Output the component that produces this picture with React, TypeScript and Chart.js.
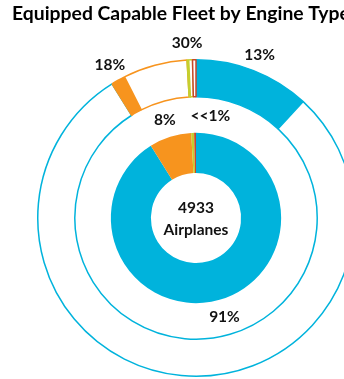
import React, { useEffect, useRef } from 'react';
import { Chart, registerables } from 'chart.js';

Chart.register(...registerables);

const engineTypes = ['Engine A', 'Engine B', 'Engine C', 'Engine D'];
const fleetShare = [91.1, 8.0, 0.55, 0.35];
const equippedPct = [13, 18, 30, 0];
const typeColors = ['#00B3DC', '#F7941E', '#C5CF2F', '#C8472B'];
const outerLabels = ['13%', '18%', '30%', ''];
const innerLabels = ['91%', '8%', '<<1%', ''];
const totalAirplanes = '4933';
const centerCaption = 'Airplanes';
const titleText = 'Equipped Capable Fleet by Engine Type';

const FONT = 'Lato, "Open Sans", sans-serif';

const outerData: number[] = [];
const outerBg: string[] = [];
const outerBorder: string[] = [];
const outerNames: string[] = [];
engineTypes.forEach((t, i) => {
  outerData.push((fleetShare[i] * equippedPct[i]) / 100);
  outerData.push((fleetShare[i] * (100 - equippedPct[i])) / 100);
  outerBg.push(typeColors[i], '#FFFFFF');
  outerBorder.push(typeColors[i], typeColors[i]);
  outerNames.push(t + ' equipped', t + ' not equipped');
});

const labelPlugin = {
  id: 'customLabels',
  afterDraw(chart: any) {
    const ctx = chart.ctx;
    ctx.save();
    // title
    let size = 17;
    ctx.font = `bold ${size}px ${FONT}`;
    const w = ctx.measureText(titleText).width;
    size = size * (338 / w);
    ctx.font = `bold ${size}px ${FONT}`;
    ctx.fillStyle = '#000';
    ctx.textAlign = 'left';
    ctx.textBaseline = 'alphabetic';
    ctx.fillText(titleText, 12, 20);

    ctx.font = `bold 15.5px ${FONT}`;
    ctx.textAlign = 'center';
    ctx.textBaseline = 'middle';
    ctx.fillStyle = '#111';

    const outerMeta = chart.getDatasetMeta(0);
    outerLabels.forEach((lab, i) => {
      if (!lab) return;
      const arc = outerMeta.data[i * 2];
      const a = (arc.startAngle + arc.endAngle) / 2;
      const r = arc.outerRadius + 17;
      ctx.fillText(lab, arc.x + r * Math.cos(a), arc.y + r * Math.sin(a));
    });

    const innerMeta = chart.getDatasetMeta(2);
    innerLabels.forEach((lab, i) => {
      if (!lab) return;
      const arc = innerMeta.data[i];
      let a = (arc.startAngle + arc.endAngle) / 2;
      if (i === innerLabels.length - 2) {
        const last = innerMeta.data[innerMeta.data.length - 1];
        a = last.endAngle + 0.14;
      }
      const r = arc.outerRadius + 18;
      ctx.fillText(lab, arc.x + r * Math.cos(a), arc.y + r * Math.sin(a));
    });

    const arc0 = innerMeta.data[0];
    ctx.fillStyle = '#111';
    ctx.fillText(totalAirplanes, arc0.x, arc0.y - 10);
    ctx.fillText(centerCaption, arc0.x, arc0.y + 12);
    ctx.restore();
  },
};

export default function App() {
  const ref = useRef<HTMLCanvasElement | null>(null);
  useEffect(() => {
    if (!ref.current) return;
    const chart = new Chart(ref.current, {
      type: 'doughnut',
      data: {
        labels: outerNames,
        datasets: [
          {
            data: outerData,
            backgroundColor: outerBg,
            borderColor: outerBorder,
            borderWidth: 1.5,
            weight: 37,
            hoverOffset: 0,
          } as any,
          {
            data: [1],
            backgroundColor: ['rgba(0,0,0,0)'],
            borderWidth: 0,
            weight: 36,
            hoverOffset: 0,
          } as any,
          {
            data: fleetShare,
            backgroundColor: typeColors,
            borderWidth: 0,
            weight: 40,
            hoverOffset: 0,
          } as any,
        ],
      },
      options: {
        responsive: false,
        animation: false,
        events: [],
        cutout: '28.5%',
        layout: { padding: { left: 37, top: 59, right: 45, bottom: 2 } },
        plugins: {
          legend: { display: false },
          tooltip: { enabled: false },
          title: { display: false },
        },
      },
      plugins: [labelPlugin],
    });
    return () => chart.destroy();
  }, []);
  return (
    <div
      style={{
        position: 'fixed',
        left: 0,
        top: 0,
        width: 344,
        height: 379,
        overflow: 'hidden',
        background: '#fff',
      }}
    >
      <canvas ref={ref} width={400} height={379} style={{ display: 'block' }} />
    </div>
  );
}
